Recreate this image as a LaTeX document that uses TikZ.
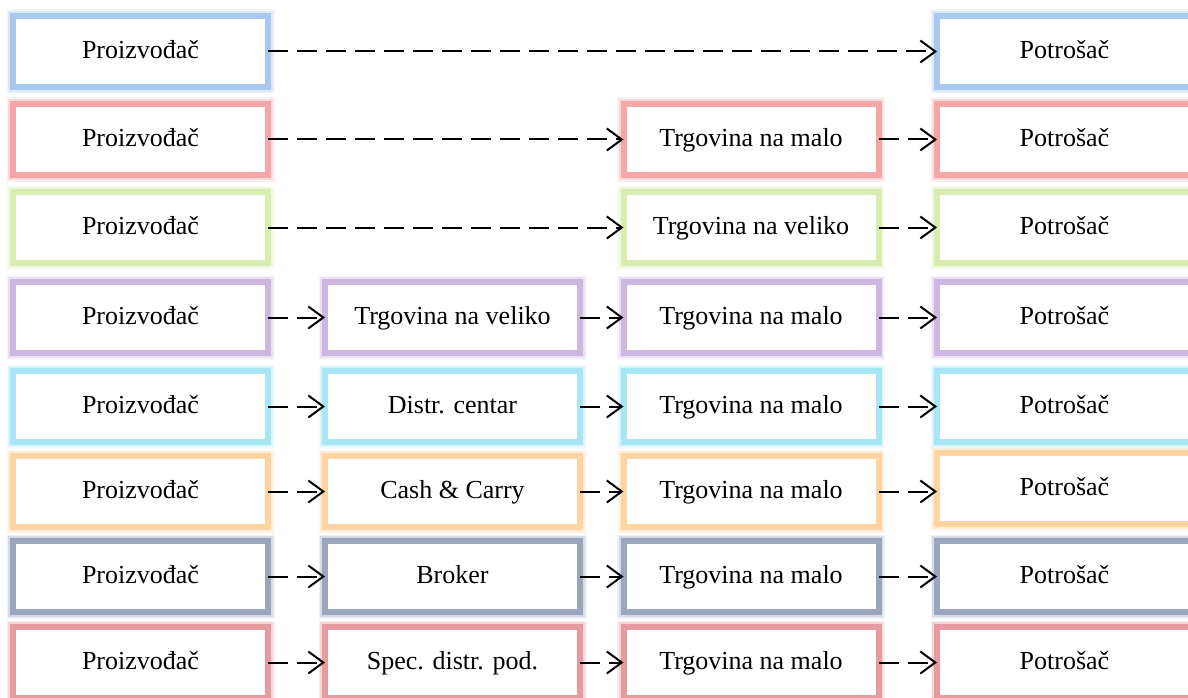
\documentclass[tikz,border=0pt]{standalone}
\usepackage{fontspec}
\setmainfont{Liberation Serif}
\usetikzlibrary{arrows.meta}
\definecolor{cA}{RGB}{168,200,240}
\definecolor{cB}{RGB}{245,166,166}
\definecolor{cC}{RGB}{217,237,176}
\definecolor{cD}{RGB}{203,183,224}
\definecolor{cE}{RGB}{168,230,245}
\definecolor{cF}{RGB}{253,212,162}
\definecolor{cG}{RGB}{155,165,190}
\definecolor{cH}{RGB}{230,156,158}
\tikzset{
  box/.style={rectangle, minimum width=255pt, minimum height=71pt, inner sep=0pt, outer sep=0pt,
    fill=white, draw=#1, line width=6pt,
    preaction={draw=#1, line width=13pt, draw opacity=0.15},
    preaction={draw=#1, line width=9.5pt, draw opacity=0.3},
    font=\fontsize{26}{30}\selectfont, text height=18pt, text depth=4pt},
  conn/.style={draw=black, line width=2pt, dash pattern=on 20pt off 9pt,
    -{Straight Barb[length=15pt,width=22pt]}}
}
\begin{document}
\begin{tikzpicture}[x=1pt,y=-1pt]
\clip (0,0) rectangle (1188,698);
\fill[white] (0,0) rectangle (1188,698);
% row 1
\node[box=cA] (p1) at (140.5,51.5) {Proizvođač};
\node[box=cA] (k1) at (1064.5,51.5) {Potrošač};
% row 2
\node[box=cB] (p2) at (140.5,139.5) {Proizvođač};
\node[box=cB] (m2) at (751,139.5) {Trgovina na malo};
\node[box=cB] (k2) at (1064.5,139.5) {Potrošač};
% row 3
\node[box=cC] (p3) at (140.5,227.5) {Proizvođač};
\node[box=cC] (m3) at (751,227.5) {Trgovina na veliko};
\node[box=cC] (k3) at (1064.5,227.5) {Potrošač};
% row 4
\node[box=cD] (p4) at (140.5,317.5) {Proizvođač};
\node[box=cD] (s4) at (452.5,317.5) {Trgovina na veliko};
\node[box=cD] (m4) at (751,317.5) {Trgovina na malo};
\node[box=cD] (k4) at (1064.5,317.5) {Potrošač};
% row 5
\node[box=cE] (p5) at (140.5,406.5) {Proizvođač};
\node[box=cE] (s5) at (452.5,406.5) {Distr. centar};
\node[box=cE] (m5) at (751,406.5) {Trgovina na malo};
\node[box=cE] (k5) at (1064.5,406.5) {Potrošač};
% row 6
\node[box=cF] (p6) at (140.5,491.5) {Proizvođač};
\node[box=cF] (s6) at (452.5,491.5) {Cash \& Carry};
\node[box=cF] (m6) at (751,491.5) {Trgovina na malo};
\node[box=cF] (k6) at (1064.5,488.5) {Potrošač};
% row 7
\node[box=cG] (p7) at (140.5,576.5) {Proizvođač};
\node[box=cG] (s7) at (452.5,576.5) {Broker};
\node[box=cG] (m7) at (751,576.5) {Trgovina na malo};
\node[box=cG] (k7) at (1064.5,576.5) {Potrošač};
% row 8
\node[box=cH] (p8) at (140.5,662.5) {Proizvođač};
\node[box=cH] (s8) at (452.5,662.5) {Spec. distr. pod.};
\node[box=cH] (m8) at (751,662.5) {Trgovina na malo};
\node[box=cH] (k8) at (1064.5,662.5) {Potrošač};
% connectors
\draw[conn] (p1.east) -- (k1.west);
\draw[conn] (p2.east) -- (m2.west);
\draw[conn] (m2.east) -- (k2.west);
\draw[conn] (p3.east) -- (m3.west);
\draw[conn] (m3.east) -- (k3.west);
\foreach \r in {4,5,6,7,8}{
  \draw[conn] (p\r.east) -- (s\r.west);
  \draw[conn] (s\r.east) -- (m\r.west);
  \draw[conn] (m\r.east) -- (m\r.east -| k\r.west);
}
\end{tikzpicture}
\end{document}
